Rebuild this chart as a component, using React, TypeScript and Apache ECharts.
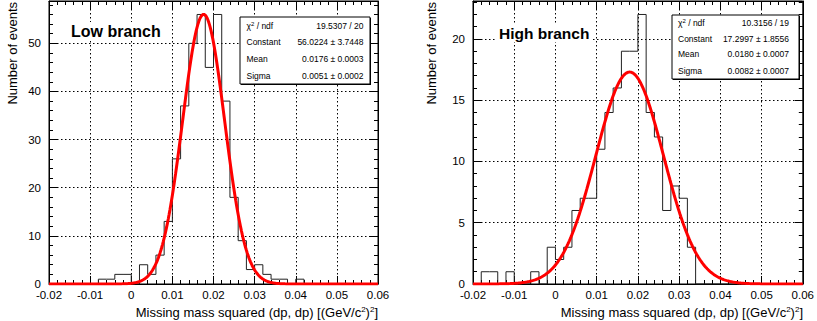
import React, { useEffect, useRef } from "react";
import * as echarts from "echarts";

// Histogram binning
const X_MIN = -0.02;
const X_MAX = 0.06;
const BIN_WIDTH = 0.002;
const X_TICK_INTERVAL = 0.01;

// Low branch histogram counts (40 bins from -0.02 to 0.06)
const lowCounts = [
  0, 0, 0, 0, 0, 0, 1, 1, 2, 2,
  0, 4, 2, 6, 13, 26, 37, 50, 56, 45,
  56, 38, 18, 9, 3, 4, 2, 1, 1, 0,
  1, 0, 0, 0, 0, 0, 0, 0, 0, 0,
];

// High branch histogram counts
const highCounts = [
  0, 1, 1, 0, 1, 0, 0, 1, 0, 3,
  2, 3, 6, 7, 7, 11, 14, 16, 19, 19,
  22, 14, 12, 6, 8, 7, 3, 0, 0, 0,
  0, 0, 0, 0, 0, 0, 0, 0, 0, 0,
];

// Fit parameters (as shown in the stats boxes)
const lowFit = { constant: 56.0224, mean: 0.0176, sigma: 0.0051 };
const highFit = { constant: 17.2997, mean: 0.018, sigma: 0.0082 };

const lowStatsLabels = ["χ{s|2} / ndf", "Constant", "Mean", "Sigma"];
const lowStatsValues = ["19.5307 / 20", "56.0224 ± 3.7448", "0.0176 ± 0.0003", "0.0051 ± 0.0002"];
const highStatsLabels = ["χ{s|2} / ndf", "Constant", "Mean", "Sigma"];
const highStatsValues = ["10.3156 / 19", "17.2997 ± 1.8556", "0.0180 ± 0.0007", "0.0082 ± 0.0007"];

const lowYMax = 58.8;
const highYMax = 23.1;

const FONT = "'Liberation Sans', Arial, Helvetica, sans-serif";

function stepData(counts: number[]) {
  const d: number[][] = counts.map((c, i) => [X_MIN + i * BIN_WIDTH, c]);
  d.push([X_MAX, counts[counts.length - 1]]);
  return d;
}

function gaussData(p: { constant: number; mean: number; sigma: number }) {
  const pts: number[][] = [];
  const n = 400;
  for (let i = 0; i <= n; i++) {
    const x = X_MIN + ((X_MAX - X_MIN) * i) / n;
    const z = (x - p.mean) / p.sigma;
    pts.push([x, p.constant * Math.exp(-0.5 * z * z)]);
  }
  return pts;
}

const fmtX = (v: number) => {
  const r = Math.round(v * 1000) / 1000;
  return r === 0 ? "0" : String(r);
};

function xAxes(gridIndex: number) {
  const common = {
    type: "value",
    gridIndex,
    min: X_MIN,
    max: X_MAX,
    interval: X_TICK_INTERVAL,
    axisLine: { show: true, onZero: false, lineStyle: { color: "#000", width: 1 } },
    axisTick: { show: true, inside: true, length: 8, lineStyle: { color: "#000" } },
    minorTick: { show: true, splitNumber: 5, length: 4, lineStyle: { color: "#000" } },
  };
  return [
    {
      ...common,
      position: "bottom",
      axisLabel: {
        show: true,
        color: "#000",
        fontFamily: FONT,
        fontSize: 11.5,
        margin: 5,
        formatter: fmtX,
      },
      splitLine: { show: true, lineStyle: { color: "#000", type: [1.5, 2.5], width: 1 } },
    },
    {
      ...common,
      position: "top",
      axisLabel: { show: false },
      splitLine: { show: false },
    },
  ];
}

function yAxes(gridIndex: number, max: number, interval: number) {
  const common = {
    type: "value",
    gridIndex,
    min: 0,
    max,
    interval,
    axisLine: { show: true, onZero: false, lineStyle: { color: "#000", width: 1 } },
    axisTick: { show: true, inside: true, length: 8, lineStyle: { color: "#000" } },
    minorTick: { show: true, splitNumber: 5, length: 4, lineStyle: { color: "#000" } },
  };
  return [
    {
      ...common,
      position: "left",
      axisLabel: {
        show: true,
        color: "#000",
        fontFamily: FONT,
        fontSize: 11.5,
        margin: 8,
        showMaxLabel: false,
      },
      splitLine: { show: true, lineStyle: { color: "#000", type: [1.5, 2.5], width: 1 } },
    },
    {
      ...common,
      position: "right",
      axisLabel: { show: false },
      splitLine: { show: false },
    },
  ];
}

function statsBox(
  x: number,
  y: number,
  w: number,
  h: number,
  rows: number[],
  labelX: number,
  valueX: number,
  labels: string[],
  values: string[]
) {
  const els: any[] = [
    {
      type: "rect",
      shape: { x: x + 1, y: y + 1, width: w, height: h },
      style: { fill: "#000" },
      z: 100,
    },
    {
      type: "rect",
      shape: { x, y, width: w, height: h },
      style: { fill: "#fff", stroke: "#000", lineWidth: 1 },
      z: 101,
    },
  ];
  labels.forEach((t, i) => {
    els.push({
      type: "text",
      x: labelX,
      y: rows[i],
      z: 102,
      style: {
        text: t,
        fill: "#000",
        fontSize: 8.5,
        fontFamily: FONT,
        align: "left",
        verticalAlign: "middle",
        rich: { s: { fontSize: 6, fontFamily: FONT, verticalAlign: "top", padding: [0, 0, 4, 0] } },
      },
    });
    els.push({
      type: "text",
      x: valueX,
      y: rows[i],
      z: 102,
      style: {
        text: values[i],
        fill: "#000",
        fontSize: 8.5,
        fontFamily: FONT,
        align: "right",
        verticalAlign: "middle",
      },
    });
  });
  return els;
}

function xTitle(rightX: number) {
  return {
    type: "text",
    x: rightX,
    y: 312,
    z: 50,
    style: {
      text: "Missing mass squared (dp, dp) [(GeV/c{s|2}){s|2}]",
      fill: "#000",
      fontSize: 13,
      fontFamily: FONT,
      align: "right",
      verticalAlign: "middle",
      rich: {
        s: { fontSize: 8, fontFamily: FONT, fill: "#000", verticalAlign: "top", padding: [0, 0, 6, 0] },
      },
    },
  };
}

function yTitle(cx: number) {
  return {
    type: "text",
    x: cx,
    y: 2,
    rotation: Math.PI / 2,
    z: 50,
    style: {
      text: "Number of events",
      fill: "#000",
      fontSize: 13,
      fontFamily: FONT,
      align: "right",
      verticalAlign: "middle",
    },
  };
}

export default function App() {
  const ref = useRef<HTMLDivElement>(null);
  useEffect(() => {
    if (!ref.current) return;
    const chart = echarts.init(ref.current, undefined, { renderer: "svg" });
    const option: any = {
      animation: false,
      backgroundColor: "#fff",
      grid: [
        { left: 49, top: 1, width: 329, height: 283, show: true, borderColor: "#000", borderWidth: 1 },
        { left: 473, top: 1, width: 331.5, height: 283, show: true, borderColor: "#000", borderWidth: 1 },
      ],
      xAxis: [...xAxes(0), ...xAxes(1)],
      yAxis: [...yAxes(0, lowYMax, 10), ...yAxes(1, highYMax, 5)],
      series: [
        {
          type: "line",
          xAxisIndex: 0,
          yAxisIndex: 0,
          step: "end",
          data: stepData(lowCounts),
          showSymbol: false,
          symbol: "none",
          lineStyle: { color: "#222", width: 1 },
          z: 3,
        },
        {
          type: "line",
          xAxisIndex: 0,
          yAxisIndex: 0,
          data: gaussData(lowFit),
          showSymbol: false,
          symbol: "none",
          lineStyle: { color: "#ff0000", width: 3 },
          z: 4,
        },
        {
          type: "line",
          xAxisIndex: 2,
          yAxisIndex: 2,
          step: "end",
          data: stepData(highCounts),
          showSymbol: false,
          symbol: "none",
          lineStyle: { color: "#222", width: 1 },
          z: 3,
        },
        {
          type: "line",
          xAxisIndex: 2,
          yAxisIndex: 2,
          data: gaussData(highFit),
          showSymbol: false,
          symbol: "none",
          lineStyle: { color: "#ff0000", width: 3 },
          z: 4,
        },
      ],
      graphic: [
        xTitle(378),
        xTitle(803),
        yTitle(12),
        yTitle(431),
        {
          type: "text",
          x: 68,
          y: 31,
          z: 60,
          style: {
            text: "Low branch",
            fill: "#000",
            fontSize: 16,
            fontWeight: "bold",
            fontFamily: FONT,
            align: "left",
            verticalAlign: "middle",
            backgroundColor: "#fff",
            padding: [1, 3, 1, 3],
          },
        },
        {
          type: "text",
          x: 496,
          y: 33,
          z: 60,
          style: {
            text: "High branch",
            fill: "#000",
            fontSize: 15.5,
            fontWeight: "bold",
            fontFamily: FONT,
            align: "left",
            verticalAlign: "middle",
            backgroundColor: "#fff",
            padding: [1, 3, 1, 3],
          },
        },
        ...statsBox(240, 17, 130, 67, [25.7, 42.3, 59, 76.3], 246.5, 363.5, lowStatsLabels, lowStatsValues),
        ...statsBox(672, 15, 127, 64, [22.7, 38.7, 53.7, 71], 678, 789, highStatsLabels, highStatsValues),
      ],
    };
    chart.setOption(option);
    return () => chart.dispose();
  }, []);
  return (
    <div
      ref={ref}
      style={{ position: "fixed", left: 0, top: 0, width: 817, height: 321, background: "#fff" }}
    />
  );
}
